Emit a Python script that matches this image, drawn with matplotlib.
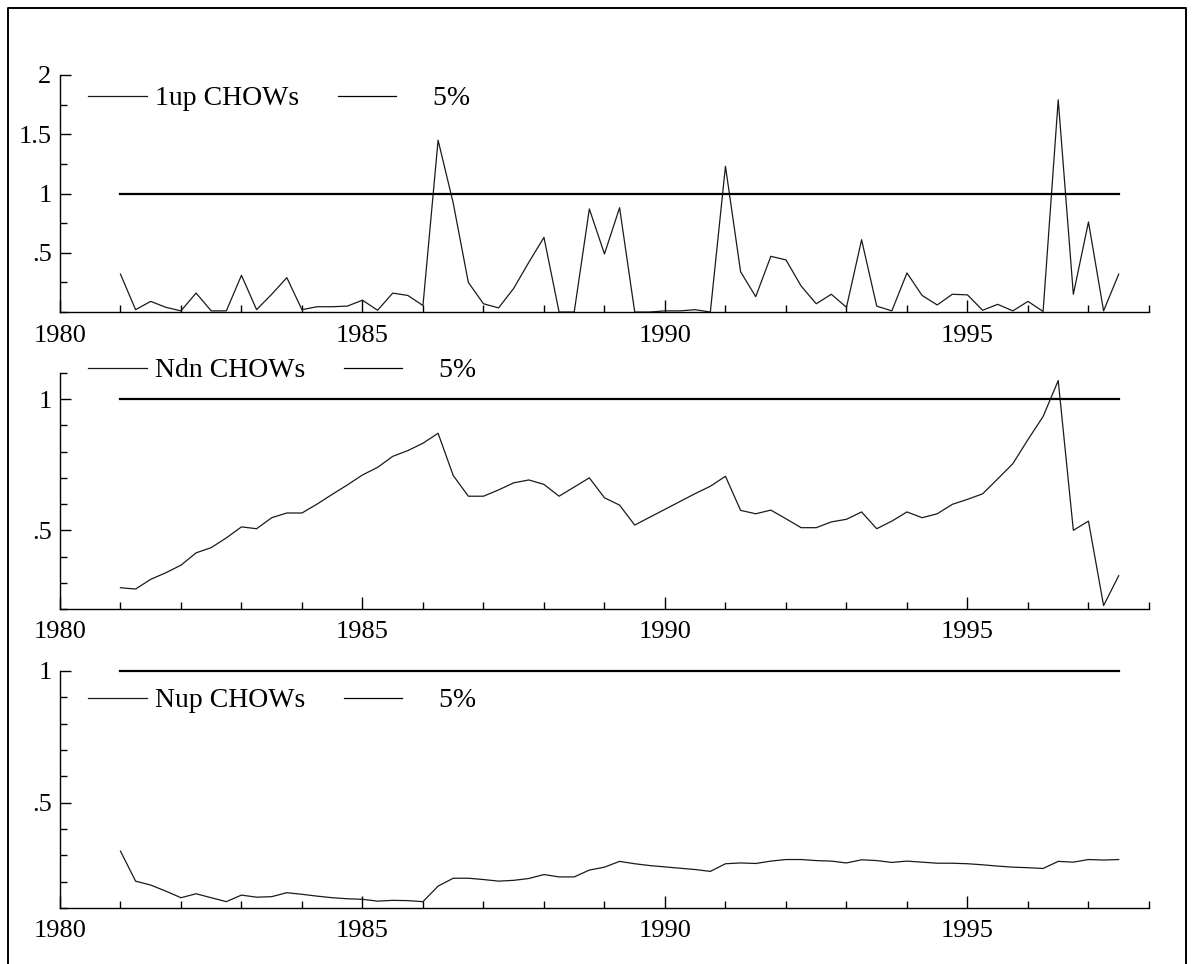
import numpy as np
import matplotlib.pyplot as plt
from matplotlib.ticker import FixedLocator, MultipleLocator, FuncFormatter
from matplotlib.lines import Line2D

# quarterly dates 1981Q1 .. 1997Q3
dates = 1981 + np.arange(67) * 0.25

up1_chows = [0.32, 0.02, 0.09, 0.04, 0.01, 0.16, 0.01, 0.01,
             0.31, 0.02, 0.15, 0.29, 0.02, 0.045, 0.045, 0.05,
             0.10, 0.015, 0.16, 0.14, 0.055, 1.45, 0.92, 0.25,
             0.07, 0.035, 0.20, 0.42, 0.63, 0.0, 0.0, 0.87,
             0.49, 0.88, 0.0, 0.0, 0.01, 0.01, 0.02, 0.0,
             1.23, 0.34, 0.13, 0.47, 0.44, 0.22, 0.07, 0.15,
             0.04, 0.61, 0.05, 0.01, 0.33, 0.14, 0.06, 0.15,
             0.145, 0.015, 0.065, 0.01, 0.09, 0.005, 1.79, 0.15,
             0.76, 0.01, 0.32]

ndn_chows = [0.281, 0.276, 0.313, 0.338, 0.367, 0.414, 0.434, 0.471,
             0.513, 0.506, 0.548, 0.566, 0.566, 0.600, 0.637, 0.673,
             0.711, 0.740, 0.782, 0.804, 0.832, 0.870, 0.709, 0.630,
             0.630, 0.654, 0.681, 0.692, 0.675, 0.630, 0.665, 0.700,
             0.624, 0.596, 0.520, 0.550, 0.580, 0.610, 0.640, 0.668,
             0.706, 0.576, 0.563, 0.577, 0.544, 0.510, 0.510, 0.532,
             0.542, 0.570, 0.506, 0.535, 0.570, 0.548, 0.563, 0.599,
             0.618, 0.639, 0.696, 0.754, 0.846, 0.934, 1.071, 0.500,
             0.535, 0.213, 0.327]

nup_chows = [0.316, 0.202, 0.187, 0.164, 0.139, 0.154, 0.139, 0.124,
             0.149, 0.141, 0.143, 0.158, 0.152, 0.145, 0.139, 0.135,
             0.133, 0.126, 0.129, 0.128, 0.124, 0.183, 0.213, 0.213,
             0.208, 0.202, 0.205, 0.212, 0.227, 0.218, 0.218, 0.244,
             0.255, 0.277, 0.268, 0.261, 0.256, 0.251, 0.246, 0.239,
             0.268, 0.271, 0.269, 0.278, 0.284, 0.284, 0.280, 0.278,
             0.271, 0.283, 0.280, 0.273, 0.278, 0.274, 0.270, 0.270,
             0.268, 0.264, 0.259, 0.255, 0.253, 0.250, 0.277, 0.274,
             0.284, 0.282, 0.284]

crit_5pct = 1.0

labels = ['1up CHOWs', 'Ndn CHOWs', 'Nup CHOWs']
series = [up1_chows, ndn_chows, nup_chows]
ylims = [(0, 2), (0.2, 1.1), (0.1, 1.0)]
ymajor = [[0.5, 1, 1.5, 2], [0.5, 1], [0.5, 1]]
yminor = [0.25, 0.1, 0.1]
legend_y = [0.90, 1.01, 0.875]

plt.rcParams['font.family'] = ['Liberation Serif', 'DejaVu Serif']

fig = plt.figure(figsize=(11.92, 9.64), dpi=100)

# outer frame
fig.add_artist(Line2D([0.0067, 0.0067, 0.995, 0.995], [-0.01, 0.9917, 0.9917, -0.01],
                      transform=fig.transFigure, color='black', lw=1.4))

positions = [[0.0503, 0.6763, 0.9136, 0.2459],
             [0.0503, 0.3683, 0.9136, 0.2448],
             [0.0503, 0.0581, 0.9136, 0.2459]]

def fmt(v, pos):
    s = ('%g' % v)
    if s.startswith('0.'):
        s = s[1:]
    return s

for i in range(3):
    ax = fig.add_axes(positions[i])
    ax.plot(dates, series[i], color='#1a1a1a', lw=0.9, label=labels[i])
    ax.plot([dates[0], dates[-1]], [crit_5pct, crit_5pct], color='black', lw=1.6,
            label='    5%', clip_on=False)
    ax.set_xlim(1980, 1998)
    ax.set_ylim(*ylims[i])
    ax.spines['top'].set_visible(False)
    ax.spines['right'].set_visible(False)
    ax.spines['left'].set_linewidth(1.0)
    ax.spines['bottom'].set_linewidth(1.0)
    ax.xaxis.set_major_locator(FixedLocator([1980, 1985, 1990, 1995]))
    ax.xaxis.set_minor_locator(MultipleLocator(1))
    ax.yaxis.set_major_locator(FixedLocator(ymajor[i]))
    ax.yaxis.set_minor_locator(MultipleLocator(yminor[i]))
    ax.yaxis.set_major_formatter(FuncFormatter(fmt))
    ax.tick_params(axis='x', which='major', direction='in', length=9, width=1, pad=9, labelsize=19)
    ax.tick_params(axis='x', which='minor', direction='in', length=5, width=1)
    ax.tick_params(axis='y', which='major', direction='in', length=8, width=1, pad=6, labelsize=19)
    ax.tick_params(axis='y', which='minor', direction='in', length=5, width=1)
    leg = ax.legend(ncol=2, loc='center left', bbox_to_anchor=(0.026, legend_y[i]),
                    frameon=False, fontsize=20, handlelength=2.1, handletextpad=0.3,
                    columnspacing=1.4, borderaxespad=0, borderpad=0)
    for h in leg.get_lines():
        h.set_linewidth(0.9)

fig.savefig('out.png', dpi=100)
